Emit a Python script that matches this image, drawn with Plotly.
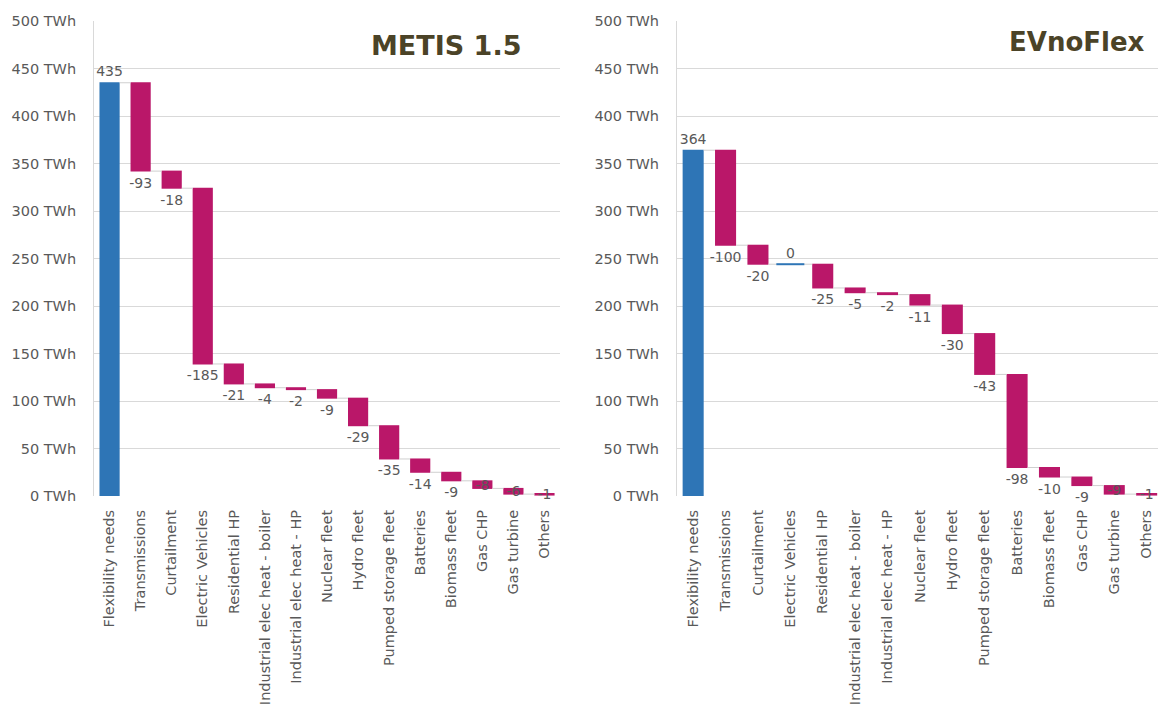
"""Flexibility needs waterfall: METIS 1.5 vs EVnoFlex."""

import numpy as np
import plotly.graph_objects as go

categories = [
    "Flexibility needs",
    "Transmissions",
    "Curtailment",
    "Electric Vehicles",
    "Residential HP",
    "Industrial elec heat - boiler",
    "Industrial elec heat - HP",
    "Nuclear fleet",
    "Hydro fleet",
    "Pumped storage fleet",
    "Batteries",
    "Biomass fleet",
    "Gas CHP",
    "Gas turbine",
    "Others",
]

metis_values = [435, -93, -18, -185, -21, -4, -2, -9, -29, -35, -14, -9, -8, -6, -1]
evnoflex_values = [364, -100, -20, 0, -25, -5, -2, -11, -30, -43, -98, -10, -9, -9, -1]

panel_titles = ["METIS 1.5", "EVnoFlex"]

BLUE = "#2E75B6"
MAGENTA = "#BA1769"
GRID = "#D9D9D9"
TEXT = "#595959"
TITLE = "#4B4327"
FONT = "DejaVu Sans"

measures = ["absolute"] + ["relative"] * (len(categories) - 1)

fig = go.Figure()

for i, values in enumerate([metis_values, evnoflex_values]):
    xa = "x" if i == 0 else "x2"
    ya = "y" if i == 0 else "y2"
    levels = np.cumsum(values)
    # labels of steps ending right on the axis are kept inside the plot, like Excel
    positions = ["inside" if (k > 0 and levels[k] < 10) else "outside" for k in range(len(values))]
    fig.add_trace(
        go.Waterfall(
            x=categories,
            y=values,
            measure=measures,
            text=[str(v) for v in values],
            textposition=positions,
            textangle=0,
            textfont=dict(family=FONT, size=14, color=TEXT),
            insidetextfont=dict(family=FONT, size=14, color=TEXT),
            outsidetextfont=dict(family=FONT, size=14, color=TEXT),
            insidetextanchor="middle",
            constraintext="none",
            cliponaxis=False,
            decreasing=dict(marker=dict(color=MAGENTA)),
            increasing=dict(marker=dict(color=BLUE)),
            totals=dict(marker=dict(color=BLUE)),
            connector=dict(line=dict(color="#CFCFCF", width=1)),
            xaxis=xa,
            yaxis=ya,
        )
    )
    # zero-change steps show as a thin blue line at the running level
    zero_idx = [k for k, v in enumerate(values) if v == 0 and k > 0]
    if zero_idx:
        fig.add_trace(
            go.Scatter(
                x=[categories[k] for k in zero_idx],
                y=[levels[k] for k in zero_idx],
                mode="markers",
                marker=dict(symbol="line-ew", size=20, line=dict(color=BLUE, width=2)),
                hoverinfo="skip",
                xaxis=xa,
                yaxis=ya,
            )
        )

xaxis_common = dict(
    type="category",
    tickangle=-90,
    tickfont=dict(family=FONT, size=14.5, color=TEXT),
    showgrid=False,
    ticks="",
    ticklabelstandoff=10,
    automargin=False,
)
yaxis_common = dict(
    range=[0, 500],
    dtick=50,
    ticksuffix=" TWh",
    tickfont=dict(family=FONT, size=14.5, color=TEXT),
    gridcolor=GRID,
    gridwidth=1,
    showline=True,
    linecolor=GRID,
    zeroline=False,
    ticks="",
    ticklabelstandoff=14,
    automargin=False,
)

fig.update_layout(
    width=1158,
    height=717,
    margin=dict(l=0, r=0, t=0, b=0),
    paper_bgcolor="white",
    plot_bgcolor="white",
    showlegend=False,
    waterfallgap=0.35,
    xaxis=dict(xaxis_common, domain=[0.0812, 0.4836], range=[-0.5, 14.5], anchor="y"),
    yaxis=dict(yaxis_common, domain=[0.3082, 0.9707], anchor="x"),
    xaxis2=dict(xaxis_common, domain=[0.5846, 1.0], range=[-0.5, 14.35], anchor="y2"),
    yaxis2=dict(yaxis_common, domain=[0.3082, 0.9707], anchor="x2"),
    annotations=[
        dict(
            text="<b>%s</b>" % panel_titles[0],
            x=0.4516, y=0.9365, xref="paper", yref="paper",
            xanchor="right", yanchor="middle", showarrow=False,
            font=dict(family=FONT, size=27, color=TITLE),
        ),
        dict(
            text="<b>%s</b>" % panel_titles[1],
            x=0.9905, y=0.942, xref="paper", yref="paper",
            xanchor="right", yanchor="middle", showarrow=False,
            font=dict(family=FONT, size=26, color=TITLE),
        ),
    ],
)

# drop the browser's default page margin so the figure sits at the top-left corner
fig.write_html(
    "out.html",
    config={"displayModeBar": False},
    post_script="document.body.style.margin = '0';",
)
